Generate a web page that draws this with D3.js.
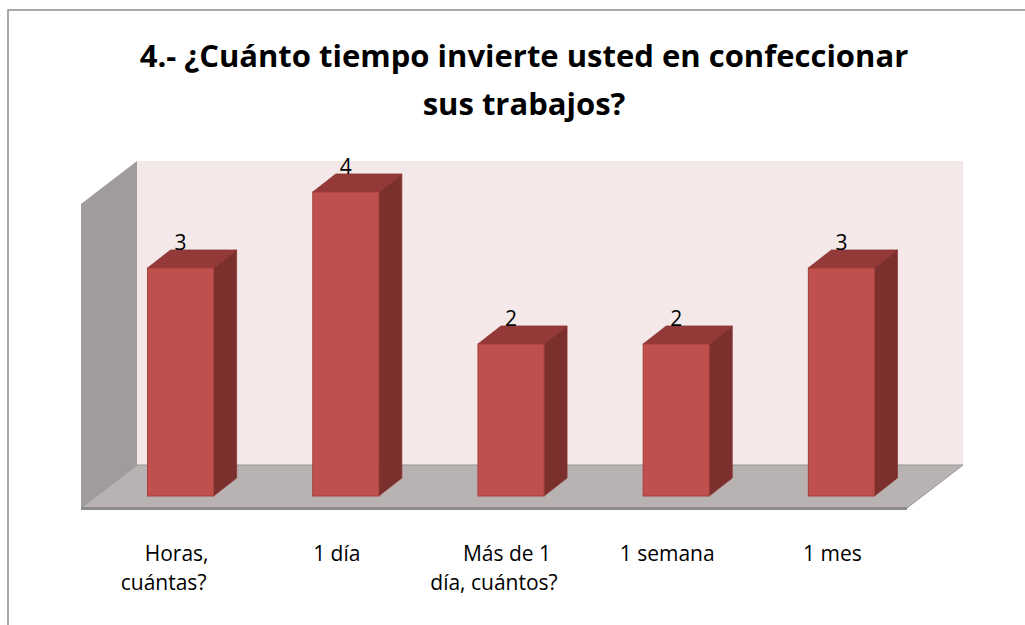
<!DOCTYPE html>
<html>
<head>
<meta charset="utf-8">
<script src="https://cdn.jsdelivr.net/npm/d3@7"></script>
<style>
  body { margin: 0; background: #fff; }
  svg { display: block; font-family: "Open Sans", "Noto Sans", sans-serif; }
</style>
</head>
<body>
<svg id="chart" width="1025" height="625"></svg>
<script>
// data
const categories = ["Horas, cuántas?", "1 día", "Más de 1 día, cuántos?", "1 semana", "1 mes"];
const labelLines = [["Horas,", "cuántas?"], ["1 día"], ["Más de 1", "día, cuántos?"], ["1 semana"], ["1 mes"]];
const values = [3, 4, 2, 2, 3];
const titleLines = ["4.- ¿Cuánto tiempo invierte usted en confeccionar", "sus trabajos?"];

const svg = d3.select("#chart");

// outer frame (runs off the right / bottom edge)
svg.append("rect")
    .attr("x", 8).attr("y", 10)
    .attr("width", 1040).attr("height", 640)
    .attr("fill", "#fff")
    .attr("stroke", "#8c8c8c")
    .attr("stroke-width", 1.5);

// 3d geometry
const depth = { dx: 56, dy: -43 };     // floor/wall depth
const barDepth = { dx: 23, dy: -18 };  // bar side depth
const floorFront = { x0: 81, x1: 907, y: 508 };

const y = d3.scaleLinear().domain([0, 4]).range([496, 192]);
const wallY = d3.scaleLinear().domain([0, 4]).range([465, 161]);

const x = d3.scaleBand()
    .domain(categories)
    .range([floorFront.x0 + 17, floorFront.x1 + 17])
    .paddingInner(0.6)
    .paddingOuter(0.3);

const pts = a => a.map(p => p.join(",")).join(" ");

// back wall
svg.append("polygon")
    .attr("points", pts([
        [floorFront.x0 + depth.dx, wallY(4)],
        [floorFront.x1 + depth.dx, wallY(4)],
        [floorFront.x1 + depth.dx, wallY(0)],
        [floorFront.x0 + depth.dx, wallY(0)]
    ]))
    .attr("fill", "#f4e8e8");

// left side wall
svg.append("polygon")
    .attr("points", pts([
        [floorFront.x0, wallY(4) - depth.dy],
        [floorFront.x0 + depth.dx, wallY(4)],
        [floorFront.x0 + depth.dx, wallY(0)],
        [floorFront.x0, floorFront.y]
    ]))
    .attr("fill", "#a19b9b");

// floor
svg.append("polygon")
    .attr("points", pts([
        [floorFront.x0, floorFront.y],
        [floorFront.x0 + depth.dx, floorFront.y + depth.dy],
        [floorFront.x1 + depth.dx, floorFront.y + depth.dy],
        [floorFront.x1, floorFront.y]
    ]))
    .attr("fill", "#b9b2b2")
    .attr("stroke", "#9a9595")
    .attr("stroke-width", 1);

svg.append("line")
    .attr("x1", floorFront.x0).attr("x2", floorFront.x1)
    .attr("y1", floorFront.y + 0.5).attr("y2", floorFront.y + 0.5)
    .attr("stroke", "#8d8d8d")
    .attr("stroke-width", 3);

// bars
const bars = svg.append("g").selectAll("g")
    .data(categories.map((c, i) => ({ c, v: values[i], lines: labelLines[i] })))
    .join("g");

const bw = x.bandwidth();

bars.append("polygon") // side
    .attr("points", d => pts([
        [x(d.c) + bw, y(d.v)],
        [x(d.c) + bw + barDepth.dx, y(d.v) + barDepth.dy],
        [x(d.c) + bw + barDepth.dx, y(0) + barDepth.dy],
        [x(d.c) + bw, y(0)]
    ]))
    .attr("fill", "#7b302e")
    .attr("stroke", "#8a3532")
    .attr("stroke-width", 0.8);

bars.append("polygon") // top
    .attr("points", d => pts([
        [x(d.c), y(d.v)],
        [x(d.c) + barDepth.dx, y(d.v) + barDepth.dy],
        [x(d.c) + bw + barDepth.dx, y(d.v) + barDepth.dy],
        [x(d.c) + bw, y(d.v)]
    ]))
    .attr("fill", "#933937")
    .attr("stroke", "#8a3532")
    .attr("stroke-width", 0.8);

bars.append("rect") // front
    .attr("x", d => x(d.c))
    .attr("y", d => y(d.v))
    .attr("width", bw)
    .attr("height", d => y(0) - y(d.v))
    .attr("fill", "#c0504d")
    .attr("stroke", "#a43f3c")
    .attr("stroke-width", 1);

// value labels
bars.append("text")
    .attr("x", d => x(d.c) + bw / 2)
    .attr("y", d => y(d.v) + barDepth.dy)
    .attr("text-anchor", "middle")
    .attr("font-size", 21)
    .attr("fill", "#000")
    .text(d => d.v);

// category labels
const frontBand = d3.scaleBand()
    .domain(categories)
    .range([floorFront.x0 + 8, floorFront.x1 + 8]);

bars.append("text")
    .attr("text-anchor", "middle")
    .attr("font-size", 21)
    .attr("fill", "#000")
    .selectAll("tspan")
    .data(d => d.lines.map((l, i) => ({ l, c: d.c, i, n: d.lines.length })))
    .join("tspan")
    .attr("x", d => frontBand(d.c) + frontBand.bandwidth() / 2 + (d.n > 1 ? (d.i === 0 ? 5 : -8) : 0))
    .attr("y", d => 561 + d.i * 29)
    .text(d => d.l);

// title
svg.append("text")
    .attr("text-anchor", "middle")
    .attr("font-size", 31)
    .attr("font-weight", "bold")
    .attr("fill", "#000")
    .selectAll("tspan")
    .data(titleLines)
    .join("tspan")
    .attr("x", 524)
    .attr("y", (d, i) => 67 + i * 48)
    .text(d => d);
</script>
</body>
</html>
